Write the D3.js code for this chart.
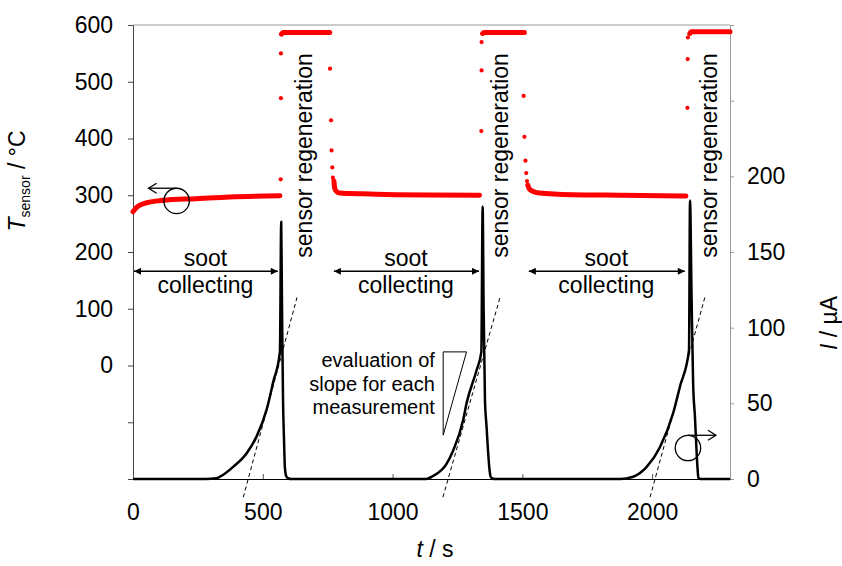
<!DOCTYPE html>
<html>
<head>
<meta charset="utf-8">
<script src="https://cdn.jsdelivr.net/npm/d3@7"></script>
<style>
  body { margin: 0; background: #fff; }
  text { font-family: "Liberation Sans", Arial, Helvetica, sans-serif; fill: #000; }
</style>
</head>
<body>
<div id="chart"></div>
<script>
const width = 842;
const height = 566;
const margin = { top: 25, right: 112, bottom: 87, left: 133 };

// ---- data ----
// sensor temperature, [t in s, T in °C]
const tempCollect1 = [[0,271],[15,279],[40,285],[115,291],[245,294],[373,297],[566,299]];
const tempRegen1   = [[572,584],[578,587],[758,587]];
const tempCollect2 = [[774,325],[777,313],[783,307],[796,304],[835,303],[886,302.5],[1014,301],[1142,300.5],[1335,300]];
const tempRegen2   = [[1347,585],[1352,587],[1508,587]];
const tempCollect3 = [[1521,318],[1527,311],[1540,307],[1565,304],[1694,301],[1886,300],[2130,298.5]];
const tempRegen3   = [[2145,585],[2150,588],[2300,588]];
// single readings during heating / cooling
const tempDots = [[569,328],[570,471],[570,550],
                  [759,523],[763,432],[765,379],[768,349],[770,331],
                  [1342,413],[1343,520],[1343,570],
                  [1505,475],[1508,403],[1512,361],[1515,339],[1518,325],
                  [2136,454],[2137,540],[2138,578]];

// sensor current, [t in s, I in µA]
const currCycle1 = [[0,0],[280,0],[320,0.5],[335,1.5],[386,8],[438,17],[476,28],[515,46],[540,64],[566,84],
                    [571,170],[574,115],[578,52],[582,25],[585,8],[590,2],[597,0.5],[610,0]];
const currCycle2 = [[1130,0],[1156,2],[1208,10],[1234,19],[1272,39],[1285,50],[1324,72],[1342,84],
                    [1347,180],[1351,110],[1356,52],[1362,35],[1368,18],[1373,7],[1377,2],[1382,0.5],[1395,0]];
const currCycle3 = [[1876,0],[1927,1.5],[1979,8],[2030,21],[2081,43.5],[2107,61],[2142,85],
                    [2146,184],[2152,120],[2158,63],[2165,41],[2171,19],[2175,7],[2178,1],[2185,0],[2300,0]];

// slope evaluation lines (start / end), [t, I]
const slopeLines = [[[425,-12],[632,120]], [[1194,-12],[1414,120]], [[1992,-12],[2203,120]]];

// annotations
const collectSpans = [[0,558],[770,1333],[1521,2126]];  // t from / to
const collectLevel = 166;                                 // °C
const regenLabelT = [690, 1445, 2250];
const regenLabelLevel = 190;                              // °C
const slopeTriangle = [[1195,84],[1285,84],[1195,29]];    // [t, I]
const slopeText = ["evaluation of", "slope for each", "measurement"];

const xTicks = [0, 500, 1000, 1500, 2000];
const tTicks = d3.range(-200, 601, 100);
const iTicks = d3.range(0, 301, 50);

// ---- scales ----
const x = d3.scaleLinear().domain([0, 2300]).range([margin.left, width - margin.right]);
const yT = d3.scaleLinear().domain([-200, 600]).range([height - margin.bottom, margin.top]);
const yI = d3.scaleLinear().domain([0, 300]).range([height - margin.bottom, margin.top]);

const svg = d3.select("#chart").append("svg")
    .attr("width", width)
    .attr("height", height)
    .attr("viewBox", [0, 0, width, height]);

const defs = svg.append("defs");
defs.append("marker")
    .attr("id", "headEnd")
    .attr("viewBox", "0 0 10 10")
    .attr("refX", 10).attr("refY", 5)
    .attr("markerWidth", 9).attr("markerHeight", 7)
    .attr("markerUnits", "userSpaceOnUse")
    .attr("orient", "auto-start-reverse")
  .append("path")
    .attr("d", "M0,0 L10,5 L0,10 Z")
    .attr("fill", "#000");

// top frame line
svg.append("line")
    .attr("x1", x(0)).attr("x2", x(2300))
    .attr("y1", margin.top).attr("y2", margin.top)
    .attr("stroke", "#9a9a9a").attr("stroke-width", 1);

// ---- axes ----
const leftAxis = svg.append("g")
    .attr("transform", `translate(${margin.left},0)`)
    .call(d3.axisLeft(yT).tickValues(tTicks).tickFormat(d => d >= 0 ? d : "")
        .tickSizeInner(5).tickSizeOuter(0).tickPadding(15));
leftAxis.select(".domain").attr("stroke", "#444");
leftAxis.selectAll(".tick line").attr("stroke", "#444");

const rightAxis = svg.append("g")
    .attr("transform", `translate(${width - margin.right},0)`)
    .call(d3.axisRight(yI).tickValues(iTicks).tickFormat(d => d <= 200 ? d : "")
        .tickSizeInner(4).tickSizeOuter(0).tickPadding(13));
rightAxis.select(".domain").attr("stroke", "#9a9a9a");
rightAxis.selectAll(".tick line").attr("stroke", "#9a9a9a");

const bottomAxis = svg.append("g")
    .attr("transform", `translate(0,${height - margin.bottom})`)
    .call(d3.axisBottom(x).tickValues(xTicks).tickFormat(d3.format("d"))
        .tickSizeInner(-5).tickSizeOuter(0).tickPadding(25));
bottomAxis.select(".domain").attr("stroke", "#000").attr("stroke-width", 1.2);
bottomAxis.selectAll(".tick line").attr("stroke", "#555");

svg.selectAll(".tick text")
    .style("font-family", '"Liberation Sans", Arial, sans-serif')
    .style("font-size", "23px")
    .attr("fill", "#000");

// ---- temperature (red dots) ----
const tLine = d3.line().x(d => x(d[0])).y(d => yT(d[1])).curve(d3.curveMonotoneX);

svg.selectAll("path.temp")
    .data([tempCollect1, tempRegen1, tempCollect2, tempRegen2, tempCollect3, tempRegen3])
    .enter()
    .append("path")
    .attr("class", "temp")
    .attr("d", tLine)
    .attr("fill", "none")
    .attr("stroke", "#ff0000")
    .attr("stroke-width", 5)
    .attr("stroke-linecap", "round")
    .attr("stroke-linejoin", "round");

svg.selectAll("circle.tempDot")
    .data(tempDots)
    .enter()
    .append("circle")
    .attr("class", "tempDot")
    .attr("cx", d => x(d[0]))
    .attr("cy", d => yT(d[1]))
    .attr("r", 2.1)
    .attr("fill", "#ff0000");

// ---- current (black line) ----
const iLine = d3.line().x(d => x(d[0])).y(d => yI(d[1])).curve(d3.curveMonotoneX);

svg.append("path")
    .datum(currCycle1.concat(currCycle2, currCycle3))
    .attr("d", iLine)
    .attr("fill", "none")
    .attr("stroke", "#000")
    .attr("stroke-width", 2.5)
    .attr("stroke-linejoin", "round");

// slope tangents
svg.selectAll("line.slope")
    .data(slopeLines)
    .enter()
    .append("line")
    .attr("class", "slope")
    .attr("x1", d => x(d[0][0])).attr("y1", d => yI(d[0][1]))
    .attr("x2", d => x(d[1][0])).attr("y2", d => yI(d[1][1]))
    .attr("stroke", "#000")
    .attr("stroke-width", 1)
    .attr("stroke-dasharray", "4,3");

// ---- annotations ----
// soot collecting arrows
svg.selectAll("line.span")
    .data(collectSpans)
    .enter()
    .append("line")
    .attr("class", "span")
    .attr("x1", d => x(d[0]) + 1).attr("x2", d => x(d[1]))
    .attr("y1", yT(collectLevel)).attr("y2", yT(collectLevel))
    .attr("stroke", "#000").attr("stroke-width", 1.6)
    .attr("marker-start", "url(#headEnd)")
    .attr("marker-end", "url(#headEnd)");

collectSpans.forEach(s => {
  const cx = x((s[0] + s[1]) / 2);
  svg.append("text").attr("x", cx).attr("y", yT(collectLevel) - 5)
      .attr("text-anchor", "middle").style("font-size", "23px").text("soot");
  svg.append("text").attr("x", cx).attr("y", yT(collectLevel) + 22)
      .attr("text-anchor", "middle").style("font-size", "23px").text("collecting");
});

// sensor regeneration labels
svg.selectAll("text.regen")
    .data(regenLabelT)
    .enter()
    .append("text")
    .attr("class", "regen")
    .attr("transform", d => `translate(${x(d)},${yT(regenLabelLevel)}) rotate(-90)`)
    .style("font-size", "23px")
    .text("sensor regeneration");

// slope explanation
svg.selectAll("text.slopeText")
    .data(slopeText)
    .enter()
    .append("text")
    .attr("class", "slopeText")
    .attr("x", x(1163))
    .attr("y", (d, i) => yI(74) + i * 23.7)
    .attr("text-anchor", "end")
    .style("font-size", "20px")
    .text(d => d);

svg.append("path")
    .attr("d", "M" + slopeTriangle.map(d => [x(d[0]), yI(d[1])].join(",")).join("L") + "Z")
    .attr("fill", "none")
    .attr("stroke", "#000")
    .attr("stroke-width", 1);

// circular arrows pointing to the axis of each series
function axisPointer(cx, cy, dir) {
  const g = svg.append("g").attr("fill", "none").attr("stroke", "#000").attr("stroke-width", 1.3);
  g.append("circle").attr("cx", cx).attr("cy", cy).attr("r", 12.7);
  const tipX = cx + dir * 28;
  const topY = cy - 12.7;
  g.append("line").attr("x1", cx).attr("x2", tipX).attr("y1", topY).attr("y2", topY);
  g.append("path")
      .attr("d", `M${tipX - dir * 8},${topY - 5}L${tipX},${topY}L${tipX - dir * 8},${topY + 5}`);
}
axisPointer(x(168), yT(290), -1);
axisPointer(x(2138), yI(20.5), 1);

// ---- axis titles ----
const tTitle = svg.append("text")
    .attr("transform", `translate(25,${181}) rotate(-90)`)
    .attr("text-anchor", "middle")
    .style("font-size", "23px");
tTitle.append("tspan").style("font-style", "italic").text("T");
tTitle.append("tspan").attr("dy", 5).style("font-size", "14px").text("sensor");
tTitle.append("tspan").attr("dy", -5).text(" / °C");

const iTitle = svg.append("text")
    .attr("transform", `translate(837,323) rotate(-90)`)
    .attr("text-anchor", "middle")
    .style("font-size", "23px");
iTitle.append("tspan").style("font-style", "italic").text("I");
iTitle.append("tspan").text(" / µA");

const xTitle = svg.append("text")
    .attr("x", 435)
    .attr("y", 557)
    .attr("text-anchor", "middle")
    .style("font-size", "23px");
xTitle.append("tspan").style("font-style", "italic").text("t");
xTitle.append("tspan").text(" / s");
</script>
</body>
</html>
